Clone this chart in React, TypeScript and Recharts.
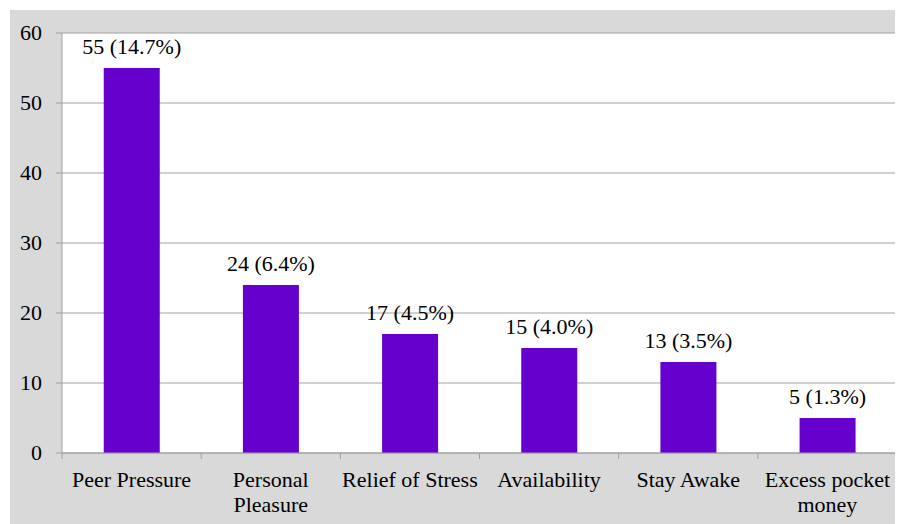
import React from 'react';
import { BarChart, Bar, XAxis, YAxis, CartesianGrid, LabelList } from 'recharts';

const categories = [
  'Peer Pressure',
  'Personal Pleasure',
  'Relief of Stress',
  'Availability',
  'Stay Awake',
  'Excess pocket money',
];
const tickLines = [
  ['Peer Pressure'],
  ['Personal', 'Pleasure'],
  ['Relief of Stress'],
  ['Availability'],
  ['Stay Awake'],
  ['Excess pocket', 'money'],
];
const counts = [55, 24, 17, 15, 13, 5];
const percents = ['14.7', '6.4', '4.5', '4.0', '3.5', '1.3'];
const yTicks = [0, 10, 20, 30, 40, 50, 60];

const data = categories.map((name, i) => ({
  name,
  count: counts[i],
  pct: percents[i],
  lines: tickLines[i],
}));

const FONT = 'Liberation Serif, DejaVu Serif, serif';
const FONT_SIZE = 22;
const AXIS_GRAY = '#a0a0a0';
const textStyle = { fontFamily: FONT, fontSize: FONT_SIZE };

const CategoryTick = (props: any) => {
  const { x, y, payload, index } = props;
  const half =
    payload && typeof payload.offset === 'number' && payload.offset > 0
      ? payload.offset
      : (props.width || 0) / categories.length / 2;
  const lines = tickLines[index] || [String(payload.value)];
  const isLast = index === categories.length - 1;
  return (
    <g>
      <line x1={x - half} y1={y} x2={x - half} y2={y + 6} stroke={AXIS_GRAY} strokeWidth={1} />
      {isLast && (
        <line x1={x + half} y1={y} x2={x + half} y2={y + 6} stroke={AXIS_GRAY} strokeWidth={1} />
      )}
      <text x={x} y={y} textAnchor="middle" fill="#000" style={textStyle}>
        {lines.map((ln: string, i: number) => (
          <tspan key={i} x={x} y={y + 34 + i * 25}>
            {ln}
          </tspan>
        ))}
      </text>
    </g>
  );
};

const ValueLabel = (props: any) => {
  const { x, y, width, index } = props;
  return (
    <text x={x + width / 2} y={y - 14} textAnchor="middle" fill="#000" style={textStyle}>
      {`${counts[index]} (${percents[index]}%)`}
    </text>
  );
};

const ValueTick = (props: any) => {
  const { x, y, payload } = props;
  return (
    <text x={x} y={y} dy={7} textAnchor="end" fill="#000" style={textStyle}>
      {payload.value}
    </text>
  );
};

export default function App() {
  return (
    <div style={{ paddingLeft: 2, paddingTop: 2 }}>
      <BarChart
        width={893}
        height={514}
        data={data}
        margin={{ top: 23, right: 6, left: 0, bottom: 0 }}
        barCategoryGap="30%"
        style={{ background: '#d9d9d9', fontFamily: FONT }}
      >
        <CartesianGrid vertical={false} stroke={AXIS_GRAY} fill="#ffffff" fillOpacity={1} />
        <XAxis
          dataKey="name"
          height={71}
          stroke={AXIS_GRAY}
          tickLine={false}
          tickSize={0}
          tickMargin={0}
          interval={0}
          tick={<CategoryTick />}
        />
        <YAxis
          width={52}
          domain={[0, 60]}
          ticks={yTicks}
          interval={0}
          stroke={AXIS_GRAY}
          tickSize={6}
          tickMargin={14}
          tick={<ValueTick />}
        />
        <Bar dataKey="count" fill="#6600cc" isAnimationActive={false}>
          <LabelList dataKey="count" content={<ValueLabel />} />
        </Bar>
      </BarChart>
    </div>
  );
}
